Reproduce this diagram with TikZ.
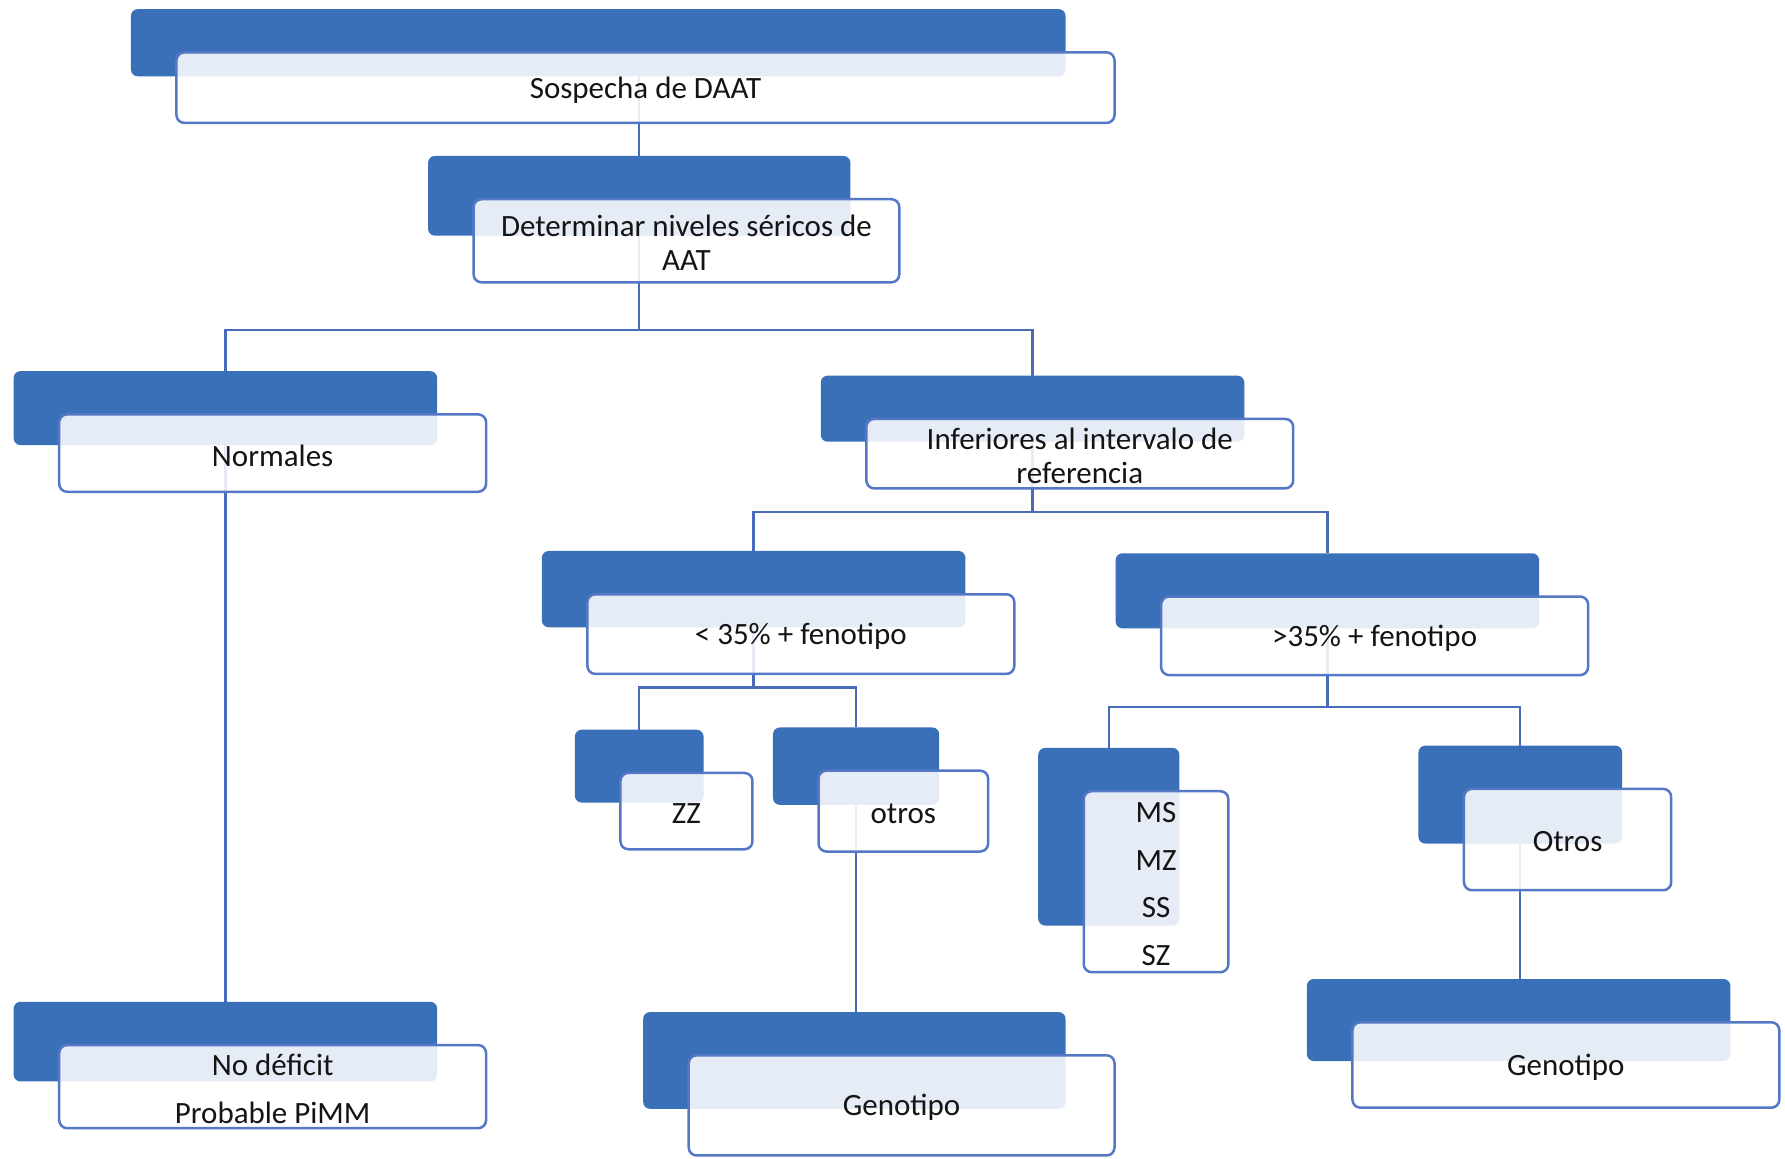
\documentclass[tikz,border=0pt]{standalone}
\usepackage{fontspec}
\setmainfont{Carlito}
\usetikzlibrary{fit,backgrounds}
\definecolor{dblue}{RGB}{58,112,184}
\definecolor{edge}{RGB}{84,120,198}
\definecolor{conncol}{RGB}{72,108,186}
\definecolor{txtc}{RGB}{20,20,20}
\newcommand\duo[6]{%
 \node[bluebox, fit={(#2,#3) (#4,#5)}] (#1b) {};
 \node[whitebox, fit={(#2+40,#3+38) (#4+43,#5+41)}] (#1w) {};
 \node[txt] (#1t) at ([yshift=-1pt]#1w.center) {#6};}
\begin{document}
\begin{tikzpicture}[x=0.5pt,y=-0.5pt,
 bluebox/.style={fill=dblue, rounded corners=3pt, inner sep=0pt, outer sep=0pt},
 whitebox/.style={draw=edge, line width=1.1pt, fill=white, fill opacity=0.87, draw opacity=1, rounded corners=3.5pt, inner sep=0pt, outer sep=0pt},
 txt/.style={font=\fontsize{13.6}{15}\selectfont, text=txtc, align=center, inner sep=0pt},
 conn/.style={draw=conncol, line width=1pt}]
\useasboundingbox (0,0) rectangle (1568,1018);
\coordinate (bar1) at (0,290);
\coordinate (bar2) at (0,450);
\coordinate (bar3) at (0,604);
\coordinate (bar4) at (0,621);
\duo{s}{115}{8}{936}{67}{Sospecha de DAAT}
\duo{d}{376}{137}{747}{207}{Determinar niveles séricos de\\AAT}
\duo{n}{12}{326}{384}{391}{Normales}
\duo{i}{721}{330}{1093}{388}{Inferiores al intervalo de\\referencia}
\duo{lo}{476}{484}{848}{551}{< 35\% + fenotipo}
\duo{hi}{980}{486}{1352}{552}{>35\% + fenotipo}
\duo{z}{505}{641}{618}{705}{ZZ}
\duo{o}{679}{639}{825}{707}{otros}
\duo{m}{912}{657}{1036}{813}{MS\\[6pt]MZ\\[6pt]SS\\[6pt]SZ}
\duo{O}{1246}{655}{1425}{741}{Otros}
\duo{nd}{12}{880}{384}{950}{No déficit\\[6pt]Probable PiMM}
\duo{gena}{565}{889}{936}{974}{Genotipo}
\duo{genb}{1148}{860}{1520}{932}{Genotipo}
\begin{scope}[on background layer]
\fill[white] (0,0) rectangle (1568,1018);
\draw[conn] (sb.south -| db.north) -- (db.north);
\draw[conn] (db.south) -- (db.south |- bar1) -| (nb.north);
\draw[conn] (db.south |- bar1) -| (ib.north);
\draw[conn] (nb.south) -- (ndb.north);
\draw[conn] (ib.south) -- (ib.south |- bar2) -| (lob.north);
\draw[conn] (ib.south |- bar2) -| (hib.north);
\draw[conn] (lob.south) -- (lob.south |- bar3) -| (zb.north);
\draw[conn] (lob.south |- bar3) -| (ob.north);
\draw[conn] (hib.south) -- (hib.south |- bar4) -| (mb.north);
\draw[conn] (hib.south |- bar4) -| (Ob.north);
\draw[conn] (ob.south) -- (ob.south |- genab.north);
\draw[conn] (Ob.south) -- (Ob.south |- genbb.north);
\end{scope}
\end{tikzpicture}
\end{document}
